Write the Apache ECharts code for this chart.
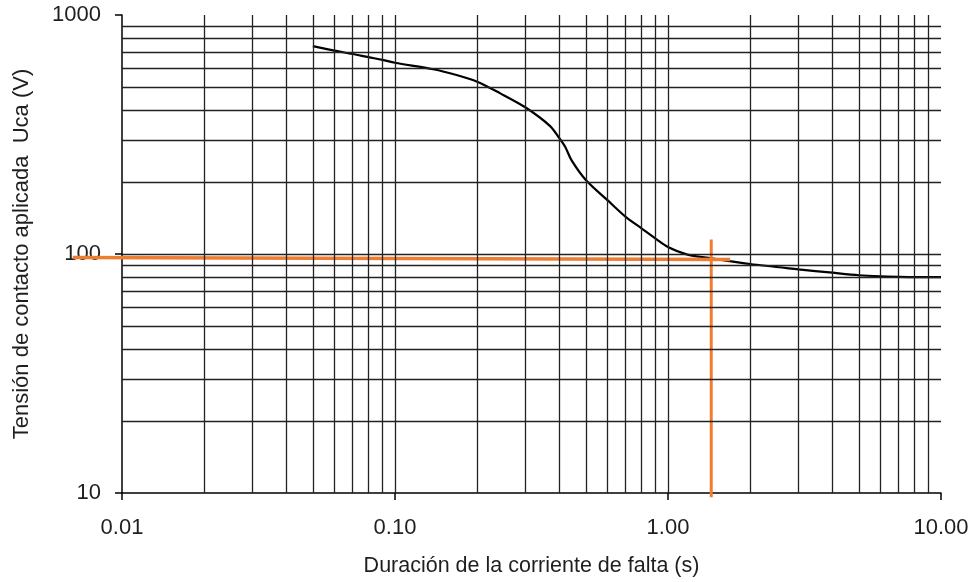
<!DOCTYPE html>
<html>
<head>
<meta charset="utf-8">
<script src="https://cdn.jsdelivr.net/npm/echarts@6/dist/echarts.min.js"></script>
<style>
html,body{margin:0;padding:0;background:#fff;}
#chart{width:976px;height:582px;}
</style>
</head>
<body>
<div id="chart"></div>
<script>
// Curve: duration (s) vs applied contact voltage (V)
const durations = [0.05,0.06,0.07,0.08,0.09,0.1,0.138,0.168,0.2,0.243,0.3,0.37,0.4,0.42,0.443,0.5,0.6,0.7,0.8,0.9,1.0,1.17,1.44,2,3,4,5,6,7,8,9,10];
const voltages  = [741,709,687,666,649,631,593,561,526,470,411,343,305,281,247,204,168,143,128,116,107,99.7,96,90.8,86.3,83.5,81.5,80.6,80.2,80,80,80];

// Orange reading lines
const hLineX = [0.0066, 1.69];
const hLineY = [96.7, 94.8];
const vLineX = [1.44, 1.44];
const vLineY = [9.6, 115];

// Axis tick labels and log grid lines
const xTickLabels = ['0.01','0.10','1.00','10.00'];
const yTickLabels = ['10','100','1000'];
const xGrid = [0.02,0.03,0.04,0.05,0.06,0.07,0.08,0.09,0.1,0.2,0.3,0.4,0.5,0.6,0.7,0.8,0.9,1,2,3,4,5,6,7,8,9];
const yGrid = [20,30,40,50,60,70,80,90,100,200,300,400,500,600,700,800,900];

const FONT = '"Liberation Sans", Arial, sans-serif';
const TXT = '#1f1f1f';
const W = 976, GL = 122, GR = 35, GT = 15, GB = 89;
const XMIN = 0.01, XMAX = 10;
const decadePx = (W - GL - GR) / Math.log10(XMAX / XMIN);
// extended (hidden) axis so the orange reading line can start left of the y axis
const extLeft = GL - decadePx * Math.log10(XMIN / hLineX[0]);

const chart = echarts.init(document.getElementById('chart'), null, {renderer:'canvas'});

const xLabelMap = {0.01:xTickLabels[0], 0.1:xTickLabels[1], 1:xTickLabels[2], 10:xTickLabels[3]};
const yLabelMap = {10:yTickLabels[0], 100:yTickLabels[1], 1000:yTickLabels[2]};

function lbl(map, v){
  for (const k in map){ if (Math.abs(Math.log10(v) - Math.log10(+k)) < 1e-6) return map[k]; }
  return '';
}

const gridLineStyle = {color:'#222', width:1.3, type:'solid'};

chart.setOption({
  animation:false,
  backgroundColor:'#fff',
  grid:[
    {left:GL, right:GR, top:GT, bottom:GB, containLabel:false},
    {left:extLeft, right:GR, top:GT, bottom:GB, containLabel:false}
  ],
  xAxis:[{
    type:'log', logBase:10, min:XMIN, max:XMAX, gridIndex:0,
    name:'Duración de la corriente de falta (s)',
    nameLocation:'middle', nameGap:62,
    nameTextStyle:{fontFamily:FONT, fontSize:21.5, color:TXT},
    axisLine:{show:true, lineStyle:{color:'#000', width:1.5}},
    axisTick:{show:true, length:7, lineStyle:{color:'#000', width:1.5}},
    axisLabel:{fontFamily:FONT, fontSize:22, color:TXT, margin:24,
      formatter:function(v){ return lbl(xLabelMap, v); }},
    splitLine:{show:false},
    minorTick:{show:false}, minorSplitLine:{show:false}
  },{
    type:'log', logBase:10, min:hLineX[0], max:XMAX, gridIndex:1, show:false,
    axisLine:{show:false}, axisTick:{show:false}, axisLabel:{show:false}, splitLine:{show:false}
  }],
  yAxis:[{
    type:'log', logBase:10, min:10, max:1000, gridIndex:0,
    name:'Tensión de contacto aplicada  Uca (V)',
    nameLocation:'middle', nameGap:89, nameRotate:90,
    nameTextStyle:{fontFamily:FONT, fontSize:22, color:TXT},
    axisLine:{show:true, lineStyle:{color:'#000', width:1.5}},
    axisTick:{show:true, length:7, lineStyle:{color:'#000', width:1.5}},
    axisLabel:{fontFamily:FONT, fontSize:22, color:TXT, margin:21,
      formatter:function(v){ return lbl(yLabelMap, v); }},
    splitLine:{show:false},
    minorTick:{show:false}, minorSplitLine:{show:false}
  },{
    type:'log', logBase:10, min:10, max:1000, gridIndex:1, show:false,
    axisLine:{show:false}, axisTick:{show:false}, axisLabel:{show:false}, splitLine:{show:false}
  }],
  series:[
    {
      name:'grid', type:'line', data:[], z:1, silent:true,
      markLine:{
        silent:true, symbol:['none','none'], animation:false,
        label:{show:false},
        lineStyle:gridLineStyle,
        data: xGrid.map(v=>({xAxis:v})).concat(yGrid.map(v=>({yAxis:v})))
      }
    },
    {
      name:'curve', type:'line', z:3,
      data: durations.map((d,i)=>[d, voltages[i]]),
      showSymbol:false, smooth:0.3,
      lineStyle:{color:'#000', width:2.2}
    },
    {
      name:'hline', type:'line', z:4, clip:false, xAxisIndex:1, yAxisIndex:1,
      data: hLineX.map((d,i)=>[d, hLineY[i]]),
      showSymbol:false,
      lineStyle:{color:'#ED7D31', width:3.5}
    },
    {
      name:'vline', type:'line', z:4, clip:false,
      data: vLineX.map((d,i)=>[d, vLineY[i]]),
      showSymbol:false,
      lineStyle:{color:'#ED7D31', width:3}
    }
  ]
});
</script>
</body>
</html>
